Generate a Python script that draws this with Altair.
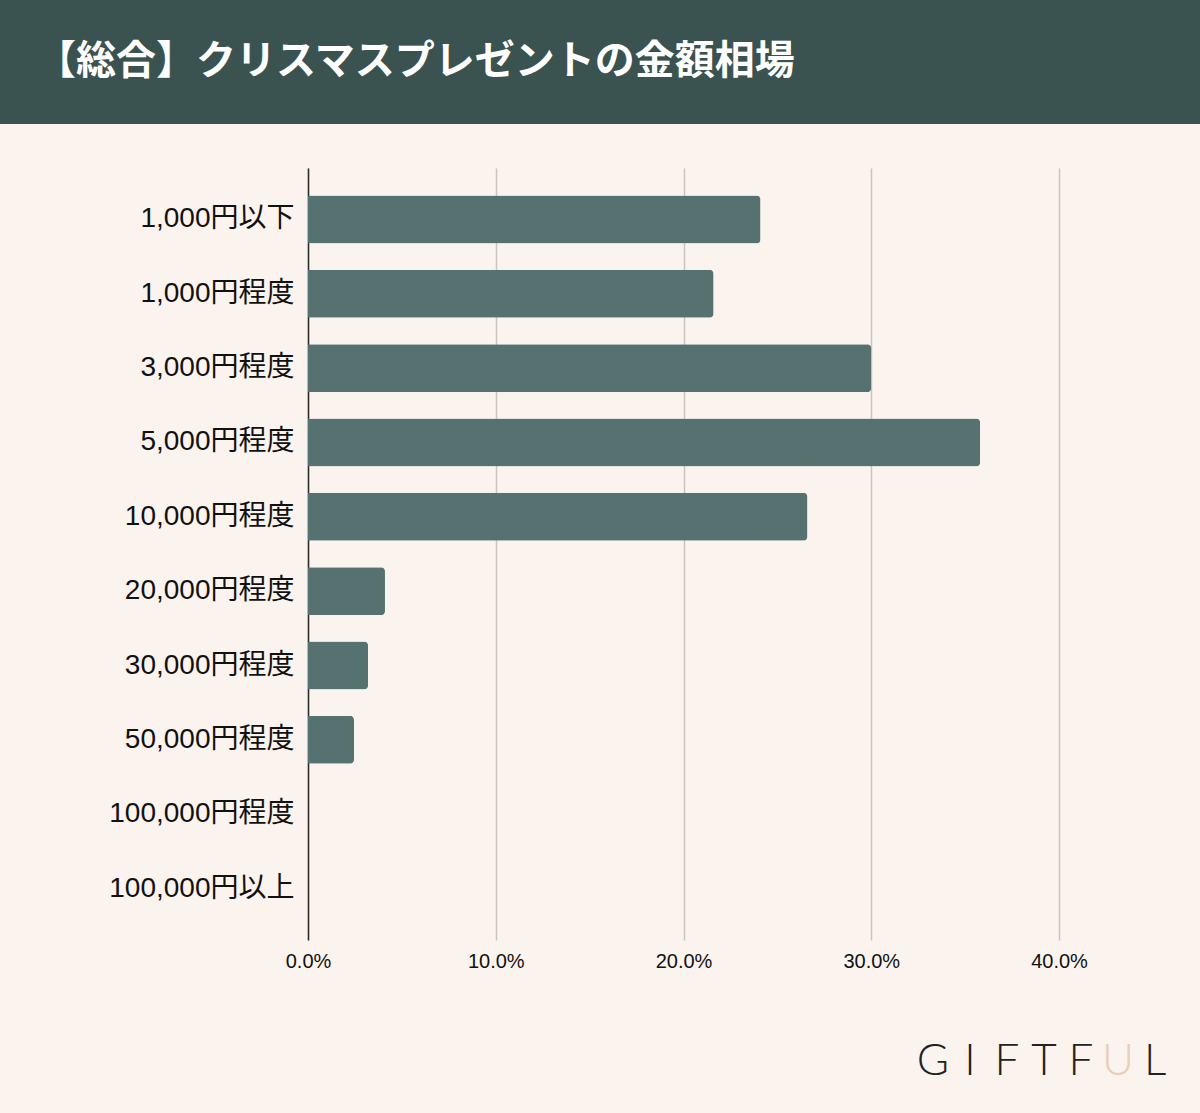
import altair as alt
import pandas as pd

categories = ["1,000円以下", "1,000円程度", "3,000円程度", "5,000円程度", "10,000円程度",
              "20,000円程度", "30,000円程度", "50,000円程度", "100,000円程度", "100,000円以上"]
shares = [0.241, 0.216, 0.300, 0.358, 0.266, 0.041, 0.032, 0.0245, 0.0, 0.0]
tick_values = [0.0, 0.1, 0.2, 0.3, 0.4]
title_text = "【総合】クリスマスプレゼントの金額相場"
logo_letters = ["G", "I", "F", "T", "F", "U", "L"]
logo_colors = ["#222222", "#222222", "#222222", "#222222", "#222222", "#e9cdb6", "#222222"]

BG = "#fbf3ee"
HEADER = "#3a5250"
BAR = "#557170"
FONT = "Noto Sans CJK JP"
LABEL_FONT = "Liberation Sans, Noto Sans CJK JP"

df = pd.DataFrame({"cat": categories, "share": shares})
one = pd.DataFrame({"a": [0]})

bars = alt.Chart(df).mark_bar(color=BAR, cornerRadiusEnd=4).encode(
    y=alt.Y("cat:N", sort=categories,
            scale=alt.Scale(paddingInner=0.355, paddingOuter=0.37),
            axis=alt.Axis(title=None, ticks=False, labelFontSize=28, labelFont=LABEL_FONT,
                          labelColor="#111111", labelPadding=14, labelLimit=400,
                          domainColor="#2b2b2b", domainWidth=1.5, grid=False)),
    x=alt.X("share:Q", scale=alt.Scale(domain=[0, 0.4], nice=False),
            axis=alt.Axis(title=None, values=tick_values, format=".1%", ticks=False,
                          domain=False, grid=True, gridColor="#cbc2c2", gridWidth=1.5,
                          labelFontSize=20, labelFont=LABEL_FONT, labelColor="#111111",
                          labelPadding=11, labelFlush=False)),
)

extender = alt.Chart(one).mark_rect(opacity=0).encode(
    x=alt.value(-308), x2=alt.value(892), y=alt.value(-168), y2=alt.value(945))

header = alt.Chart(one).mark_rect(color=HEADER).encode(
    x=alt.value(-308), x2=alt.value(892), y=alt.value(-168), y2=alt.value(-44))

title = alt.Chart(one).mark_text(
    text=title_text, color="white", font=FONT, fontWeight="bold", fontSize=40,
    align="left", baseline="middle").encode(x=alt.value(-272), y=alt.value(-106))

logo_layers = []
for i, (ch, col) in enumerate(zip(logo_letters, logo_colors)):
    logo_layers.append(
        alt.Chart(one).mark_text(
            text=ch, color=col, font="Lato", fontWeight=300, fontSize=44,
            align="center", baseline="alphabetic").encode(
            x=alt.value(625 + i * 37), y=alt.value(907)))

chart = alt.layer(extender, header, bars, title, *logo_layers).properties(
    width=751, height=772, padding=0, background=BG
).configure_view(stroke=None)

chart.save("out.html", embed_options={"renderer": "svg", "actions": False})
